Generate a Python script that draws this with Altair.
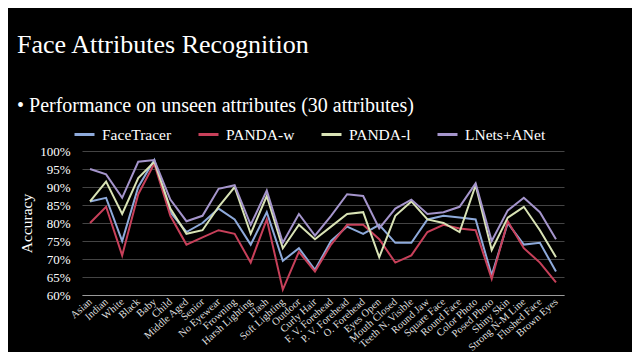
import altair as alt
import pandas as pd

categories = ["Asian", "Indian", "White", "Black", "Baby", "Child", "Middle Aged", "Senior",
              "No Eyewear", "Frowning", "Harsh Lighting", "Flash", "Soft Lighting", "Outdoor",
              "Curly Hair", "F. V. Forehead", "P. V. Forehead", "O. Forehead", "Eyes Open",
              "Mouth Closed", "Teeth N. Visible", "Round Jaw", "Square Face", "Round Face",
              "Color Photo", "Posed Photo", "Shiny Skin", "Strong N-M Line", "Flushed Face",
              "Brown Eyes"]

series_names = ["FaceTracer", "PANDA-w", "PANDA-l", "LNets+ANet"]

facetracer = [86, 87, 75, 90, 97.5, 83, 77.5, 80, 84, 81, 74, 83, 69.5, 73, 67, 75, 79, 77,
              79.5, 74.5, 74.5, 81, 82, 81.5, 81, 65.5, 80, 74, 74.5, 66.5]
panda_w = [80, 84.5, 71, 88, 96.5, 82, 74, 76, 78, 77, 69, 81, 61.5, 72, 66.5, 74, 79.5, 79.5,
           75.5, 69, 71, 77.5, 79.5, 78.5, 78, 64.5, 80.5, 73, 69, 63.5]
panda_l = [86, 91.5, 82.5, 92.5, 97, 84, 77, 78, 84.5, 90, 77, 87.5, 73, 79.5, 75.5, 79, 82.5,
           83, 70.5, 82, 86, 81, 80, 77.5, 90.5, 72.5, 81.5, 84.5, 78, 70.5]
lnets = [95, 93.5, 87, 97, 97.5, 86.5, 80.5, 82, 89.5, 90.5, 79.5, 89, 74.5, 82.5, 76.5, 82, 88,
         87.5, 78.5, 84, 86.5, 82.5, 83, 84.5, 91, 75, 83.5, 87, 83, 75.5]

series_colors = ["#8eaadb", "#c8405a", "#d9e3b5", "#a595cc"]
y_ticks = [60, 65, 70, 75, 80, 85, 90, 95, 100]

title_text = "Face Attributes Recognition"
bullet_text = "\u2022 Performance on unseen attributes (30 attributes)"

rows = []
for name, vals in zip(series_names, [facetracer, panda_w, panda_l, lnets]):
    for c, v in zip(categories, vals):
        rows.append({"attribute": c, "series": name, "accuracy": v, "order": series_names.index(name)})
df = pd.DataFrame(rows)

FONT = "Liberation Serif"

lines = alt.Chart(df).mark_line(strokeWidth=2).encode(
    x=alt.X("attribute:N", sort=categories, title=None,
            axis=alt.Axis(labelAngle=318, labelAlign="right", labelBaseline="middle",
                          labelPadding=5, labelFontSize=10.5, labelColor="#dddddd",
                          labelFont=FONT, ticks=False, domainColor="#9a9a9a",
                          grid=False, labelOverlap=False)),
    y=alt.Y("accuracy:Q", scale=alt.Scale(domain=[60, 100], nice=False, zero=False),
            title="Accuracy",
            axis=alt.Axis(values=y_ticks, labelExpr="datum.value + '%'", labelFontSize=13,
                          labelColor="#ffffff", labelFont=FONT, labelPadding=12,
                          ticks=False, domain=False, grid=True, gridColor="#444444",
                          titleFont=FONT, titleFontSize=15.5, titleFontWeight="normal",
                          titleColor="#ffffff", titlePadding=5)),
    color=alt.Color("series:N", sort=series_names,
                    scale=alt.Scale(domain=series_names, range=series_colors),
                    legend=alt.Legend(orient="none", legendX=-9, legendY=-28,
                                      direction="horizontal", title=None,
                                      symbolType="stroke", symbolSize=400,
                                      symbolStrokeWidth=3, labelFont=FONT,
                                      labelFontSize=15.5, labelColor="#ffffff",
                                      labelOffset=6, columnPadding=20)),
    order=alt.Order("order:Q"),
)

one = pd.DataFrame({"k": [0]})
title_mark = alt.Chart(one).mark_text(text=title_text, font=FONT, fontSize=26,
                                      color="#ffffff", align="left", baseline="alphabetic").encode(
    x=alt.value(-65), y=alt.value(-98))
bullet_mark = alt.Chart(one).mark_text(text=bullet_text, font=FONT, fontSize=20,
                                       color="#ffffff", align="left", baseline="alphabetic").encode(
    x=alt.value(-65), y=alt.value(-39))

chart = alt.layer(lines, title_mark, bullet_mark).properties(
    width=482, height=144,
    background="#000000",
    autosize=alt.AutoSizeParams(type="none"),
    padding={"left": 74, "top": 143, "right": 68, "bottom": 57},
).configure(font=FONT).configure_view(stroke=None).configure_text(font=FONT)

chart.save("out.html", embed_options={"renderer": "svg", "actions": False})
